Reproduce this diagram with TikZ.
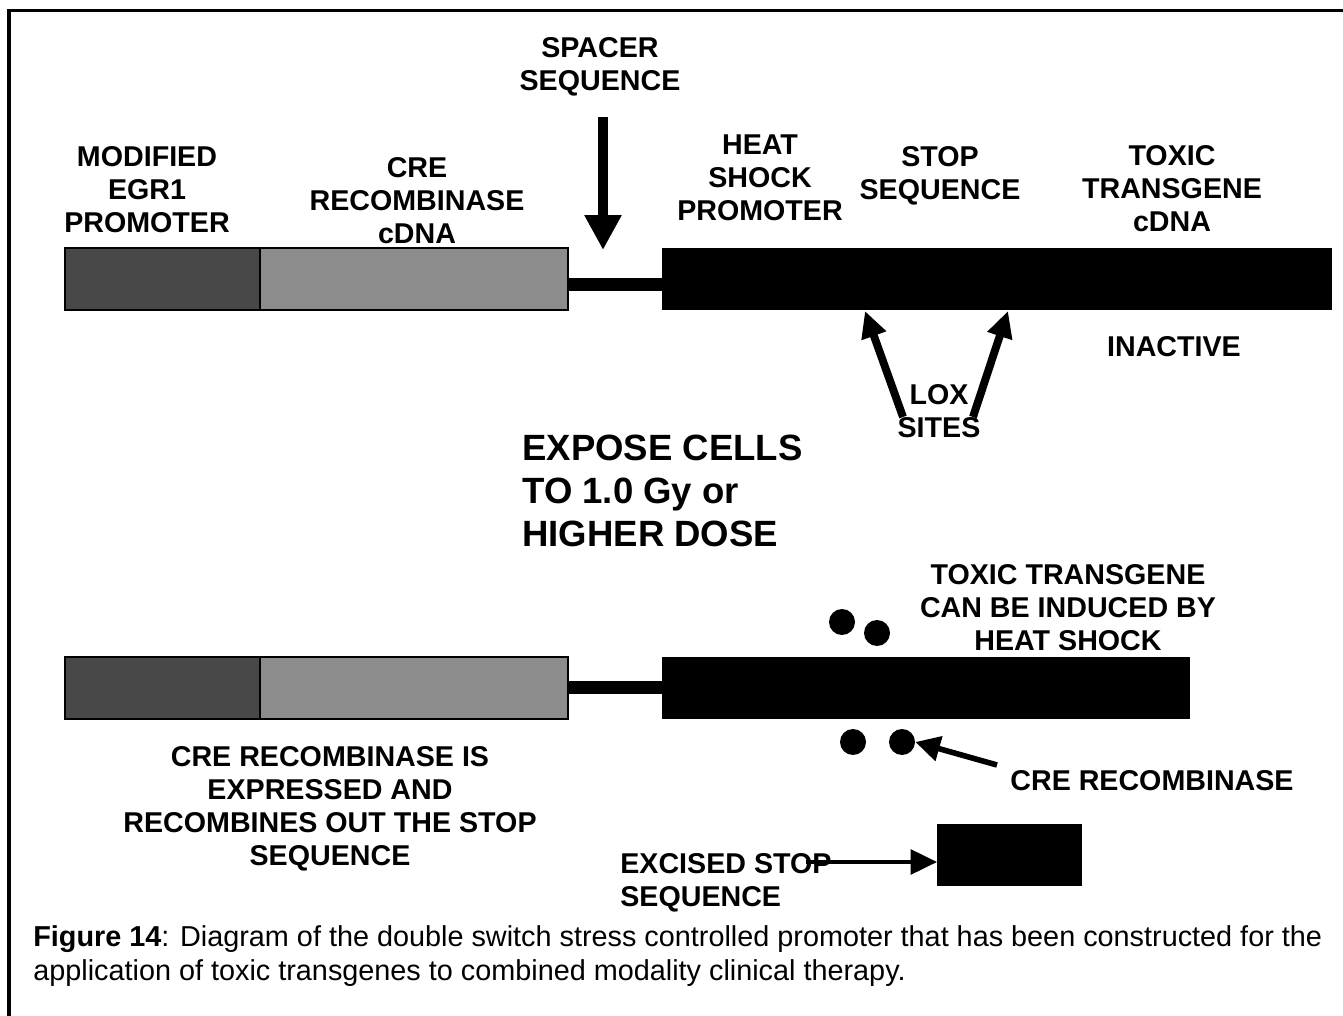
\documentclass[tikz,border=0pt]{standalone}
\usepackage{fontspec}
\setmainfont{Liberation Sans}
\usetikzlibrary{arrows.meta,positioning}
\definecolor{egrgray}{RGB}{72,72,72}
\definecolor{cregray}{RGB}{140,140,140}
\newcommand\lblfont{\fontsize{16.3}{18.8}\selectfont\bfseries}
\newcommand\bigfont{\fontsize{20.8}{24.7}\selectfont\bfseries}
\newcommand\capfont{\fontsize{16.4}{18.8}\selectfont}

\begin{document}
\begin{tikzpicture}[
    x=0.02cm, y=-0.02cm,
    gene/.style={draw=black, line width=0.7pt, minimum height=1.24cm, inner sep=0pt, outer sep=0pt},
    dnabox/.style={fill=black, minimum height=1.24cm, inner sep=0pt, outer sep=0pt},
    lbl/.style={font=\lblfont, align=center, inner sep=0pt},
    credot/.style={circle, fill=black, minimum size=0.52cm, inner sep=0pt},
    linker/.style={line width=7.4pt},
    bigarrow/.style={line width=5.7pt, -{Triangle[length=19.8pt, width=19.8pt]}},
    loxarrow/.style={line width=4.5pt, -{Triangle[length=15pt, width=14pt]}},
    arrow/.style={line width=3.2pt, -{Triangle[length=14pt, width=14pt]}},
    thinarrow/.style={line width=2.3pt, -{Triangle[length=15pt, width=14pt]}}
]
    \useasboundingbox (0,0) rectangle (1343,1016);
    \draw[line width=2.2pt] (9,1016) -- (9,10.5) -- (1343,10.5);

    % inactive construct
    \node[gene, fill=egrgray, minimum width=3.9cm, anchor=north west] (egr) at (65,248) {};
    \node[gene, fill=cregray, minimum width=6.16cm, right=0pt of egr] (cre) {};
    \node[dnabox, minimum width=13.4cm, right=1.88cm of cre] (hsp) {};
    \draw[linker] ([yshift=-0.11cm]cre.east) -- ([yshift=-0.11cm]hsp.west);

    \node[lbl] (spacerlbl) at (600,66.5) {SPACER\\SEQUENCE};
    \node[lbl] (egrlbl) at (147,190) {MODIFIED\\EGR1\\PROMOTER};
    \node[lbl] (crelbl) at (417,201) {CRE\\RECOMBINASE\\cDNA};
    \node[lbl] (hsplbl) at (760,178) {HEAT\\SHOCK\\PROMOTER};
    \node[lbl] (stoplbl) at (940,175.5) {STOP\\SEQUENCE};
    \node[lbl] (toxiclbl) at (1172,189) {TOXIC\\TRANSGENE\\cDNA};
    \node[lbl] (inactive) at (1174,347) {INACTIVE};
    \node[lbl] (loxlbl) at (939,411) {LOX\\SITES};

    \coordinate (spacertail) at (603,117);
    \coordinate (spacertip) at (603,250);
    \draw[bigarrow] (spacertail) -- (spacertip);
    \coordinate (lox1tail) at (903,417);
    \coordinate (lox1) at (865,311);
    \coordinate (lox2tail) at (973,417);
    \coordinate (lox2) at (1008,311);
    \draw[loxarrow] (lox1tail) -- (lox1);
    \draw[loxarrow] (lox2tail) -- (lox2);

    \node[font=\bigfont, align=left, inner sep=0pt, anchor=west] (expose) at (522,491)
        {EXPOSE CELLS\\TO 1.0 Gy or\\HIGHER DOSE};

    % active construct
    \node[gene, fill=egrgray, minimum width=3.9cm, anchor=north west] (egrB) at (65,657) {};
    \node[gene, fill=cregray, minimum width=6.16cm, right=0pt of egrB] (creB) {};
    \node[dnabox, minimum width=10.56cm, right=1.88cm of creB] (hspB) {};
    \draw[linker] (creB.east) -- (hspB.west);

    \node[credot] (dot1) at (842,622) {};
    \node[credot] (dot2) at (877,633) {};
    \node[credot] (dot3) at (853,742) {};
    \node[credot] (dot4) at (902,742) {};

    \node[lbl] (inducedlbl) at (1068,608) {TOXIC TRANSGENE\\CAN BE INDUCED BY\\HEAT SHOCK};
    \node[lbl] (crereclbl) at (1152,781) {CRE RECOMBINASE};
    \coordinate (cretail) at (997,765);
    \draw[arrow] (cretail) -- (dot4.east);
    \node[lbl] (expressedlbl) at (330,809) {CRE RECOMBINASE IS\\EXPRESSED AND\\RECOMBINES OUT THE STOP\\SEQUENCE};

    \node[dnabox, minimum width=2.9cm, minimum height=1.26cm] (excised) at (1009.5,855) {};
    \node[lbl, align=left, anchor=west] (excisedlbl) at (620,882.5) {EXCISED STOP\\SEQUENCE};
    \coordinate (exctail) at (806,862);
    \draw[thinarrow] (exctail) -- (excised.west |- exctail);

    % caption
    \node[font=\capfont, align=left, inner sep=0pt, anchor=base west] (caption) at (33,980)
        {\textbf{Figure 14}: Diagram of the double switch stress controlled promoter that has been constructed for the\\
         application of toxic transgenes to combined modality clinical therapy.};
\end{tikzpicture}
\end{document}
